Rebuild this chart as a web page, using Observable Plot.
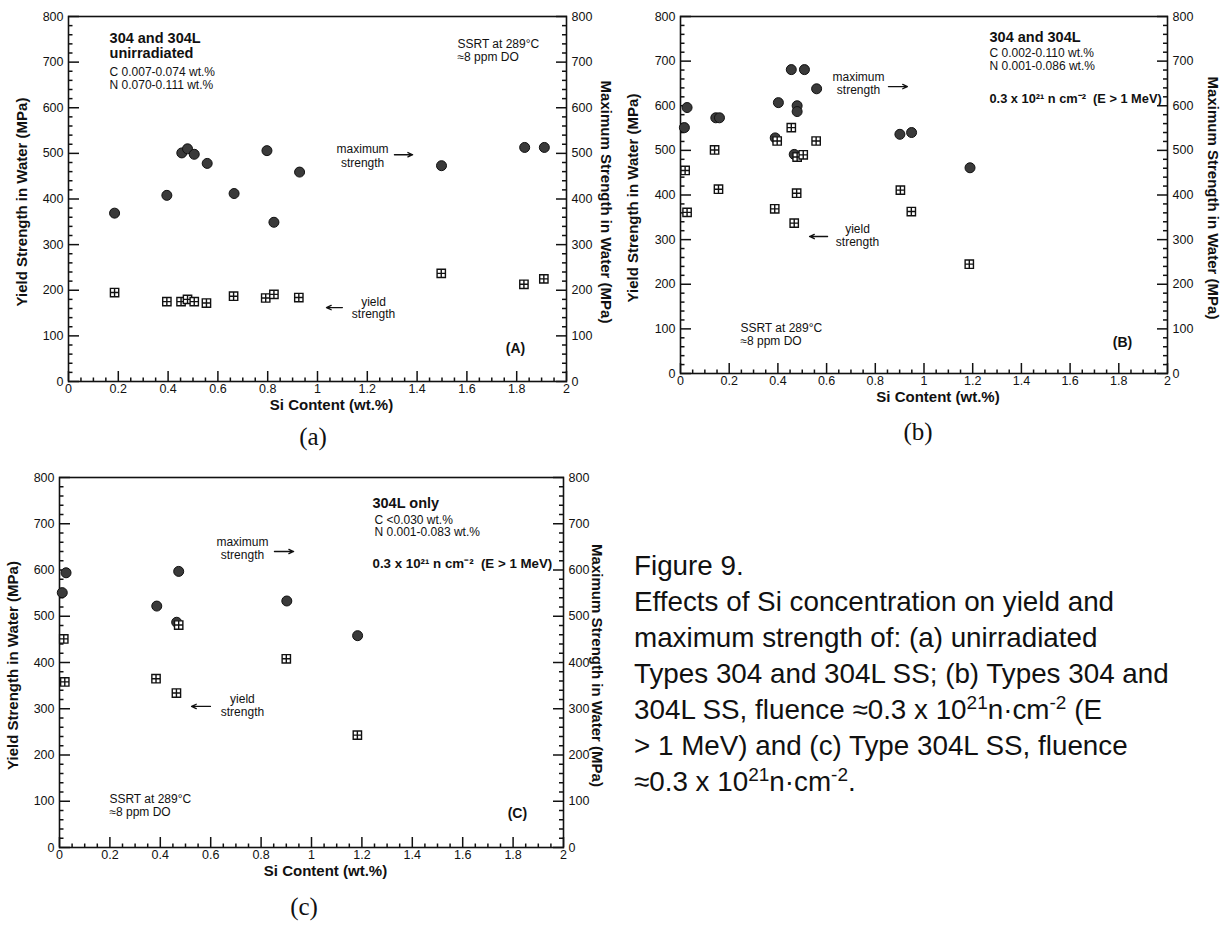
<!DOCTYPE html>
<html>
<head>
<meta charset="utf-8">
<script src="https://cdn.jsdelivr.net/npm/d3@7"></script>
<script src="https://cdn.jsdelivr.net/npm/@observablehq/plot@0.6"></script>
<style>
  html, body { margin: 0; padding: 0; background: #fff; }
  #page { position: relative; width: 1223px; height: 930px; overflow: hidden; font-family: 'Liberation Sans', Arial, Helvetica, sans-serif; }
  .panel { position: absolute; }
  .sub { position: absolute; font-family: 'Liberation Serif', 'Times New Roman', serif; font-size: 25px; color: #111; transform: translate(-50%, -50%); }
  #caption { position: absolute; left: 634px; top: 548px; font-size: 27.8px; line-height: 36px; color: #111; white-space: nowrap; }
  #caption sup { font-size: 19px; line-height: 0; vertical-align: 0.55em; }
</style>
</head>
<body>
<div id="page">
  <div class="panel" id="pa" style="left:0px; top:0px;"></div>
  <div class="panel" id="pb" style="left:610px; top:0px;"></div>
  <div class="panel" id="pc" style="left:0px; top:460px;"></div>
  <div class="sub" style="left:313px; top:437px;">(a)</div>
  <div class="sub" style="left:918px; top:432px;">(b)</div>
  <div class="sub" style="left:304px; top:907px;">(c)</div>
  <div id="caption">Figure 9.<br>Effects of Si concentration on yield and<br>maximum strength of: (a) unirradiated<br>Types 304 and 304L SS; (b) Types 304 and<br>304L SS, fluence ≈0.3 x 10<sup>21</sup>n·cm<sup>-2</sup> (E<br>&gt; 1 MeV) and (c) Type 304L SS, fluence<br>≈0.3 x 10<sup>21</sup>n·cm<sup>-2</sup>.</div>
</div>
<script>
// ---------- Tick labels ----------
const yTicks = [0, 100, 200, 300, 400, 500, 600, 700, 800];
const xTicks = [0, 0.2, 0.4, 0.6, 0.8, 1, 1.2, 1.4, 1.6, 1.8, 2];
const yLabel = "Yield Strength in Water (MPa)";
const y2Label = "Maximum Strength in Water (MPa)";
const xLabel = "Si Content (wt.%)";

// ---------- Panel (a): unirradiated ----------
const aMaxSi   = [0.185, 0.395, 0.455, 0.478, 0.505, 0.557, 0.665, 0.797, 0.825, 0.928, 1.498, 1.832, 1.911];
const aMax     = [369, 408, 501, 510, 498, 478, 412, 506, 349, 459, 473, 513, 513];
const aYieldSi = [0.185, 0.395, 0.452, 0.478, 0.505, 0.554, 0.663, 0.792, 0.825, 0.925, 1.497, 1.829, 1.909];
const aYield   = [195, 175, 175, 180, 175, 172, 187, 183, 191, 184, 237, 213, 225];

// ---------- Panel (b): 304 and 304L irradiated ----------
const bMaxSi   = [0.027, 0.016, 0.145, 0.160, 0.402, 0.389, 0.455, 0.509, 0.559, 0.479, 0.479, 0.467, 0.901, 0.949, 1.189];
const bMax     = [596, 551, 573, 573, 607, 528, 681, 681, 638, 600, 587, 491, 536, 540, 461];
const bYieldSi = [0.019, 0.027, 0.140, 0.156, 0.387, 0.397, 0.455, 0.467, 0.477, 0.479, 0.504, 0.557, 0.903, 0.948, 1.186];
const bYield   = [455, 361, 501, 413, 369, 521, 551, 337, 404, 485, 490, 521, 411, 363, 245];

// ---------- Panel (c): 304L only irradiated ----------
const cMaxSi   = [0.026, 0.011, 0.473, 0.386, 0.465, 0.902, 1.183];
const cMax     = [594, 551, 597, 522, 487, 533, 458];
const cYieldSi = [0.017, 0.021, 0.383, 0.464, 0.473, 0.900, 1.182];
const cYield   = [451, 358, 365, 334, 481, 408, 243];

// ---------- Annotations (data coordinates) ----------
const annA = [
  {t: "304 and 304L", x: 0.165, y: 753, b: true, s: 14.5},
  {t: "unirradiated", x: 0.165, y: 720, b: true, s: 14.5},
  {t: "C 0.007-0.074 wt.%", x: 0.165, y: 677, s: 12},
  {t: "N 0.070-0.111 wt.%", x: 0.165, y: 649, s: 12},
  {t: "SSRT at 289°C", x: 1.562, y: 740, s: 12},
  {t: "≈8 ppm DO", x: 1.562, y: 710, s: 12},
  {t: "maximum", x: 1.181, y: 509, s: 12, m: true},
  {t: "strength", x: 1.181, y: 479, s: 12, m: true},
  {t: "yield", x: 1.225, y: 175, s: 12, m: true},
  {t: "strength", x: 1.225, y: 147, s: 12, m: true},
  {t: "(A)", x: 1.795, y: 72, b: true, s: 14, m: true}
];
const arrA = [{x1: 1.309, x2: 1.382, y: 497}, {x1: 1.100, x2: 1.036, y: 162}];

const annB = [
  {t: "304 and 304L", x: 1.269, y: 753, b: true, s: 14.5},
  {t: "C 0.002-0.110 wt.%", x: 1.269, y: 718, s: 12},
  {t: "N 0.001-0.086 wt.%", x: 1.269, y: 688, s: 12},
  {t: "0.3 x 10²¹ n cm⁻²  (E > 1 MeV)", x: 1.269, y: 616, b: true, s: 12.8},
  {t: "maximum", x: 0.731, y: 664, s: 12, m: true},
  {t: "strength", x: 0.731, y: 635, s: 12, m: true},
  {t: "yield", x: 0.727, y: 324, s: 12, m: true},
  {t: "strength", x: 0.727, y: 295, s: 12, m: true},
  {t: "SSRT at 289°C", x: 0.246, y: 102, s: 12},
  {t: "≈8 ppm DO", x: 0.246, y: 72, s: 12},
  {t: "(B)", x: 1.815, y: 69, b: true, s: 14, m: true}
];
const arrB = [{x1: 0.854, x2: 0.932, y: 643}, {x1: 0.604, x2: 0.530, y: 307}];

const annC = [
  {t: "304L only", x: 1.242, y: 744, b: true, s: 14.5},
  {t: "C <0.030 wt.%", x: 1.25, y: 708, s: 12},
  {t: "N 0.001-0.083 wt.%", x: 1.25, y: 681, s: 12},
  {t: "0.3 x 10²¹ n cm⁻²  (E > 1 MeV)", x: 1.242, y: 614, b: true, s: 13.3},
  {t: "maximum", x: 0.726, y: 660, s: 12, m: true},
  {t: "strength", x: 0.726, y: 632, s: 12, m: true},
  {t: "yield", x: 0.726, y: 321, s: 12, m: true},
  {t: "strength", x: 0.726, y: 293, s: 12, m: true},
  {t: "SSRT at 289°C", x: 0.198, y: 105, s: 12},
  {t: "≈8 ppm DO", x: 0.198, y: 76, s: 12},
  {t: "(C)", x: 1.817, y: 73, b: true, s: 14, m: true}
];
const arrC = [{x1: 0.853, x2: 0.929, y: 640}, {x1: 0.599, x2: 0.524, y: 305}];

// ---------- helpers ----------
const squarePlus = {
  draw(ctx, size) {
    const s = Math.sqrt(size) / 2;
    ctx.moveTo(-s, -s); ctx.lineTo(s, -s); ctx.lineTo(s, s); ctx.lineTo(-s, s); ctx.closePath();
    ctx.moveTo(0, -s); ctx.lineTo(0, s);
    ctx.moveTo(-s, 0); ctx.lineTo(s, 0);
  }
};
const FONT = "'Liberation Sans', Arial, Helvetica, sans-serif";
const yMinor = d3.range(0, 801, 20).filter(v => v % 100 !== 0);
const xMinor = d3.range(0, 41).map(i => i * 0.05).filter((v, i) => i % 4 !== 0);

function annMarks(ann) {
  const marks = [];
  for (const b of [false, true]) {
    for (const m of [false, true]) {
      const sub = ann.filter(d => !!d.b === b && !!d.m === m);
      if (!sub.length) continue;
      marks.push(Plot.text(sub, {
        x: "x", y: "y", text: "t", fontSize: "s",
        textAnchor: m ? "middle" : "start", lineAnchor: "middle",
        fontWeight: b ? "bold" : "normal", fill: "#111"
      }));
    }
  }
  return marks;
}

function makePanel(cfg) {
  const {width, height, mL, mR, mT, mB, maxSi, maxV, ySi, yV, ann, arrows, dxL, dxR, dxX} = cfg;
  const pw = width - mL - mR, ph = height - mT - mB;
  const xpp = 2 / pw, ypp = 800 / ph;
  const maxData = maxSi.map((x, i) => ({x, v: maxV[i]}));
  const yieldData = ySi.map((x, i) => ({x, v: yV[i]}));
  const tickStyle = {stroke: "#111", strokeWidth: 1.5};
  return Plot.plot({
    width, height, marginLeft: mL, marginRight: mR, marginTop: mT, marginBottom: mB,
    style: {fontFamily: FONT, background: "transparent", color: "#111"},
    x: {domain: [0, 2]},
    y: {domain: [0, 800]},
    marks: [
      Plot.frame({stroke: "#111", strokeWidth: 1.6}),
      // left ticks
      Plot.ruleY(yTicks, {y: d => d, x1: 0, x2: 11 * xpp, ...tickStyle}),
      Plot.ruleY(yMinor, {y: d => d, x1: 0, x2: 4.5 * xpp, ...tickStyle}),
      // right ticks
      Plot.ruleY(yTicks, {y: d => d, x1: 2 - 10 * xpp, x2: 2 + 1 * xpp, ...tickStyle}),
      Plot.ruleY(yMinor, {y: d => d, x1: 2 - 4 * xpp, x2: 2, ...tickStyle}),
      // bottom ticks
      Plot.ruleX(xTicks, {x: d => d, y1: 0, y2: 10 * ypp, ...tickStyle}),
      Plot.ruleX(xMinor, {x: d => d, y1: 0, y2: 3.5 * ypp, ...tickStyle}),
      Plot.axisY({anchor: "left", ticks: yTicks, tickSize: 0, tickPadding: 5, label: null, fontSize: 12.5, tickFormat: d => String(d)}),
      Plot.axisY({anchor: "right", ticks: yTicks, tickSize: 0, tickPadding: 5, label: null, fontSize: 12.5, tickFormat: d => String(d)}),
      Plot.axisX({anchor: "bottom", ticks: xTicks, tickSize: 0, tickPadding: 3, label: null, fontSize: 12.5, tickFormat: d => String(d)}),
      Plot.text([yLabel], {frameAnchor: "left", textAnchor: "middle", lineAnchor: "middle", rotate: -90, dx: dxL, dy: 3, fontWeight: "bold", fontSize: 15, text: d => d}),
      Plot.text([y2Label], {frameAnchor: "right", textAnchor: "middle", lineAnchor: "middle", rotate: 90, dx: dxR, dy: 3, fontWeight: "bold", fontSize: 15, text: d => d}),
      Plot.text([xLabel], {frameAnchor: "bottom", textAnchor: "middle", dy: 28, dx: dxX, fontWeight: "bold", fontSize: 15, text: d => d}),
      // data
      Plot.dot(maxData, {x: "x", y: "v", r: 5, fill: "#3a3a3a", stroke: "#111", strokeWidth: 1}),
      Plot.dot(yieldData, {x: "x", y: "v", r: 4.7, symbol: squarePlus, fill: "#fff", stroke: "#111", strokeWidth: 1.4}),
      // annotations
      ...annMarks(ann),
      Plot.arrow(arrows, {x1: "x1", x2: "x2", y1: "y", y2: "y", headLength: 6, headAngle: 50, stroke: "#111", strokeWidth: 1.3})
    ]
  });
}

document.getElementById("pa").append(makePanel({
  width: 620, height: 425, mL: 68, mR: 54, mT: 16, mB: 44,
  maxSi: aMaxSi, maxV: aMax, ySi: aYieldSi, yV: aYield, ann: annA, arrows: arrA,
  dxL: -46, dxR: 39, dxX: 14
}));
document.getElementById("pb").append(makePanel({
  width: 613, height: 420, mL: 70, mR: 56, mT: 16, mB: 47,
  maxSi: bMaxSi, maxV: bMax, ySi: bYieldSi, yV: bYield, ann: annB, arrows: arrB,
  dxL: -47, dxR: 45, dxX: 14
}));
document.getElementById("pc").append(makePanel({
  width: 620, height: 440, mL: 59, mR: 57, mT: 17, mB: 53,
  maxSi: cMaxSi, maxV: cMax, ySi: cYieldSi, yV: cYield, ann: annC, arrows: arrC,
  dxL: -46, dxR: 33, dxX: 14
}));
</script>
</body>
</html>
